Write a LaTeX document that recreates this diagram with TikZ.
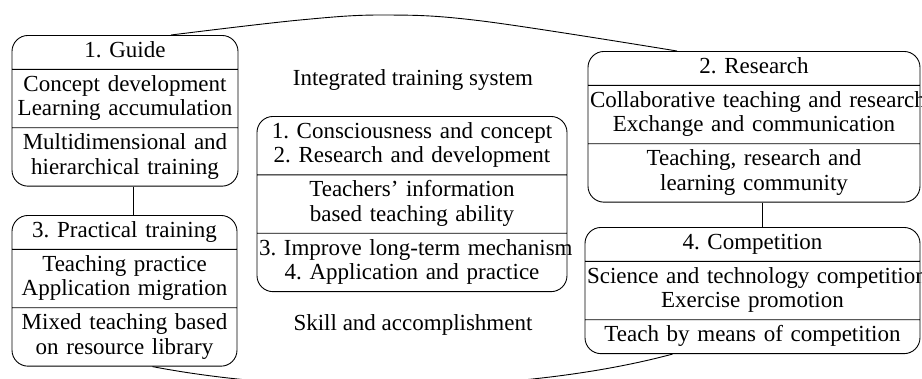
\documentclass[tikz,border=0pt]{standalone}
\usepackage{fontspec}
\setmainfont{Liberation Serif}
\usetikzlibrary{shapes.multipart}
\frenchspacing

\tikzset{
  stagebox/.style={draw, black, line width=0.9pt, rounded corners=16pt,
    rectangle split, rectangle split parts=3, align=center,
    inner xsep=2pt, inner ysep=4.25pt, anchor=north,
    font=\fontsize{23}{24.5}\selectfont},
  plainlabel/.style={font=\fontsize{23}{24.5}\selectfont},
  link/.style={black, line width=0.9pt},
}

\begin{document}
\begin{tikzpicture}[x=1pt, y=-1pt]

\useasboundingbox (0,0) rectangle (922,378);

\node[stagebox, text width=222pt] (guide) at (125,35)
  {\strut 1. Guide
   \nodepart{two}\strut\mbox{Concept development}\\\mbox{Learning accumulation}\strut
   \nodepart{three}\strut\mbox{Multidimensional and}\\\mbox{hierarchical training}\strut};

\node[stagebox, text width=221pt] (practical) at (124.5,215)
  {\strut 3. Practical training
   \nodepart{two}\strut\mbox{Teaching practice}\\\mbox{Application migration}\strut
   \nodepart{three}\strut\mbox{Mixed teaching based}\\\mbox{on resource library}\strut};

\node[stagebox, text width=306pt] (system) at (412,116)
  {\strut\mbox{1. Consciousness and concept}\\\mbox{2. Research and development}\strut
   \nodepart{two}\strut\mbox{Teachers' information}\\\mbox{based teaching ability}\strut
   \nodepart{three}\strut\mbox{3. Improve long-term mechanism}\\\mbox{4. Application and practice}\strut};

\node[stagebox, text width=328pt] (research) at (754,51)
  {\strut 2. Research
   \nodepart{two}\strut\mbox{Collaborative teaching and research}\\\mbox{Exchange and communication}\strut
   \nodepart{three}\strut\mbox{Teaching, research and}\\\mbox{learning community}\strut};

\node[stagebox, text width=331pt] (competition) at (752.5,227)
  {\strut 4. Competition
   \nodepart{two}\strut\mbox{Science and technology competition}\\\mbox{Exercise promotion}\strut
   \nodepart{three}\strut\mbox{Teach by means of competition}\strut};

\node[plainlabel] (title) at (413,80) {Integrated training system};
\node[plainlabel] (skill) at (413,325) {Skill and accomplishment};

% links between the stages
\draw[link] ([xshift=8pt]guide.south) -- ([xshift=8pt]guide.south |- practical.north);
\draw[link] ([xshift=8pt]research.south) -- ([xshift=8pt]research.south |- competition.north);

% outer arcs round the whole system
\draw[link] plot [smooth, tension=0.6] coordinates {([xshift=46pt]guide.north) (300,20) (385,15) (482,21) ([xshift=-77pt]research.north)};
\draw[link] ([xshift=28pt]practical.south) .. controls (300,395) and (520,395) .. ([xshift=-80pt]competition.south);

\end{tikzpicture}
\end{document}
